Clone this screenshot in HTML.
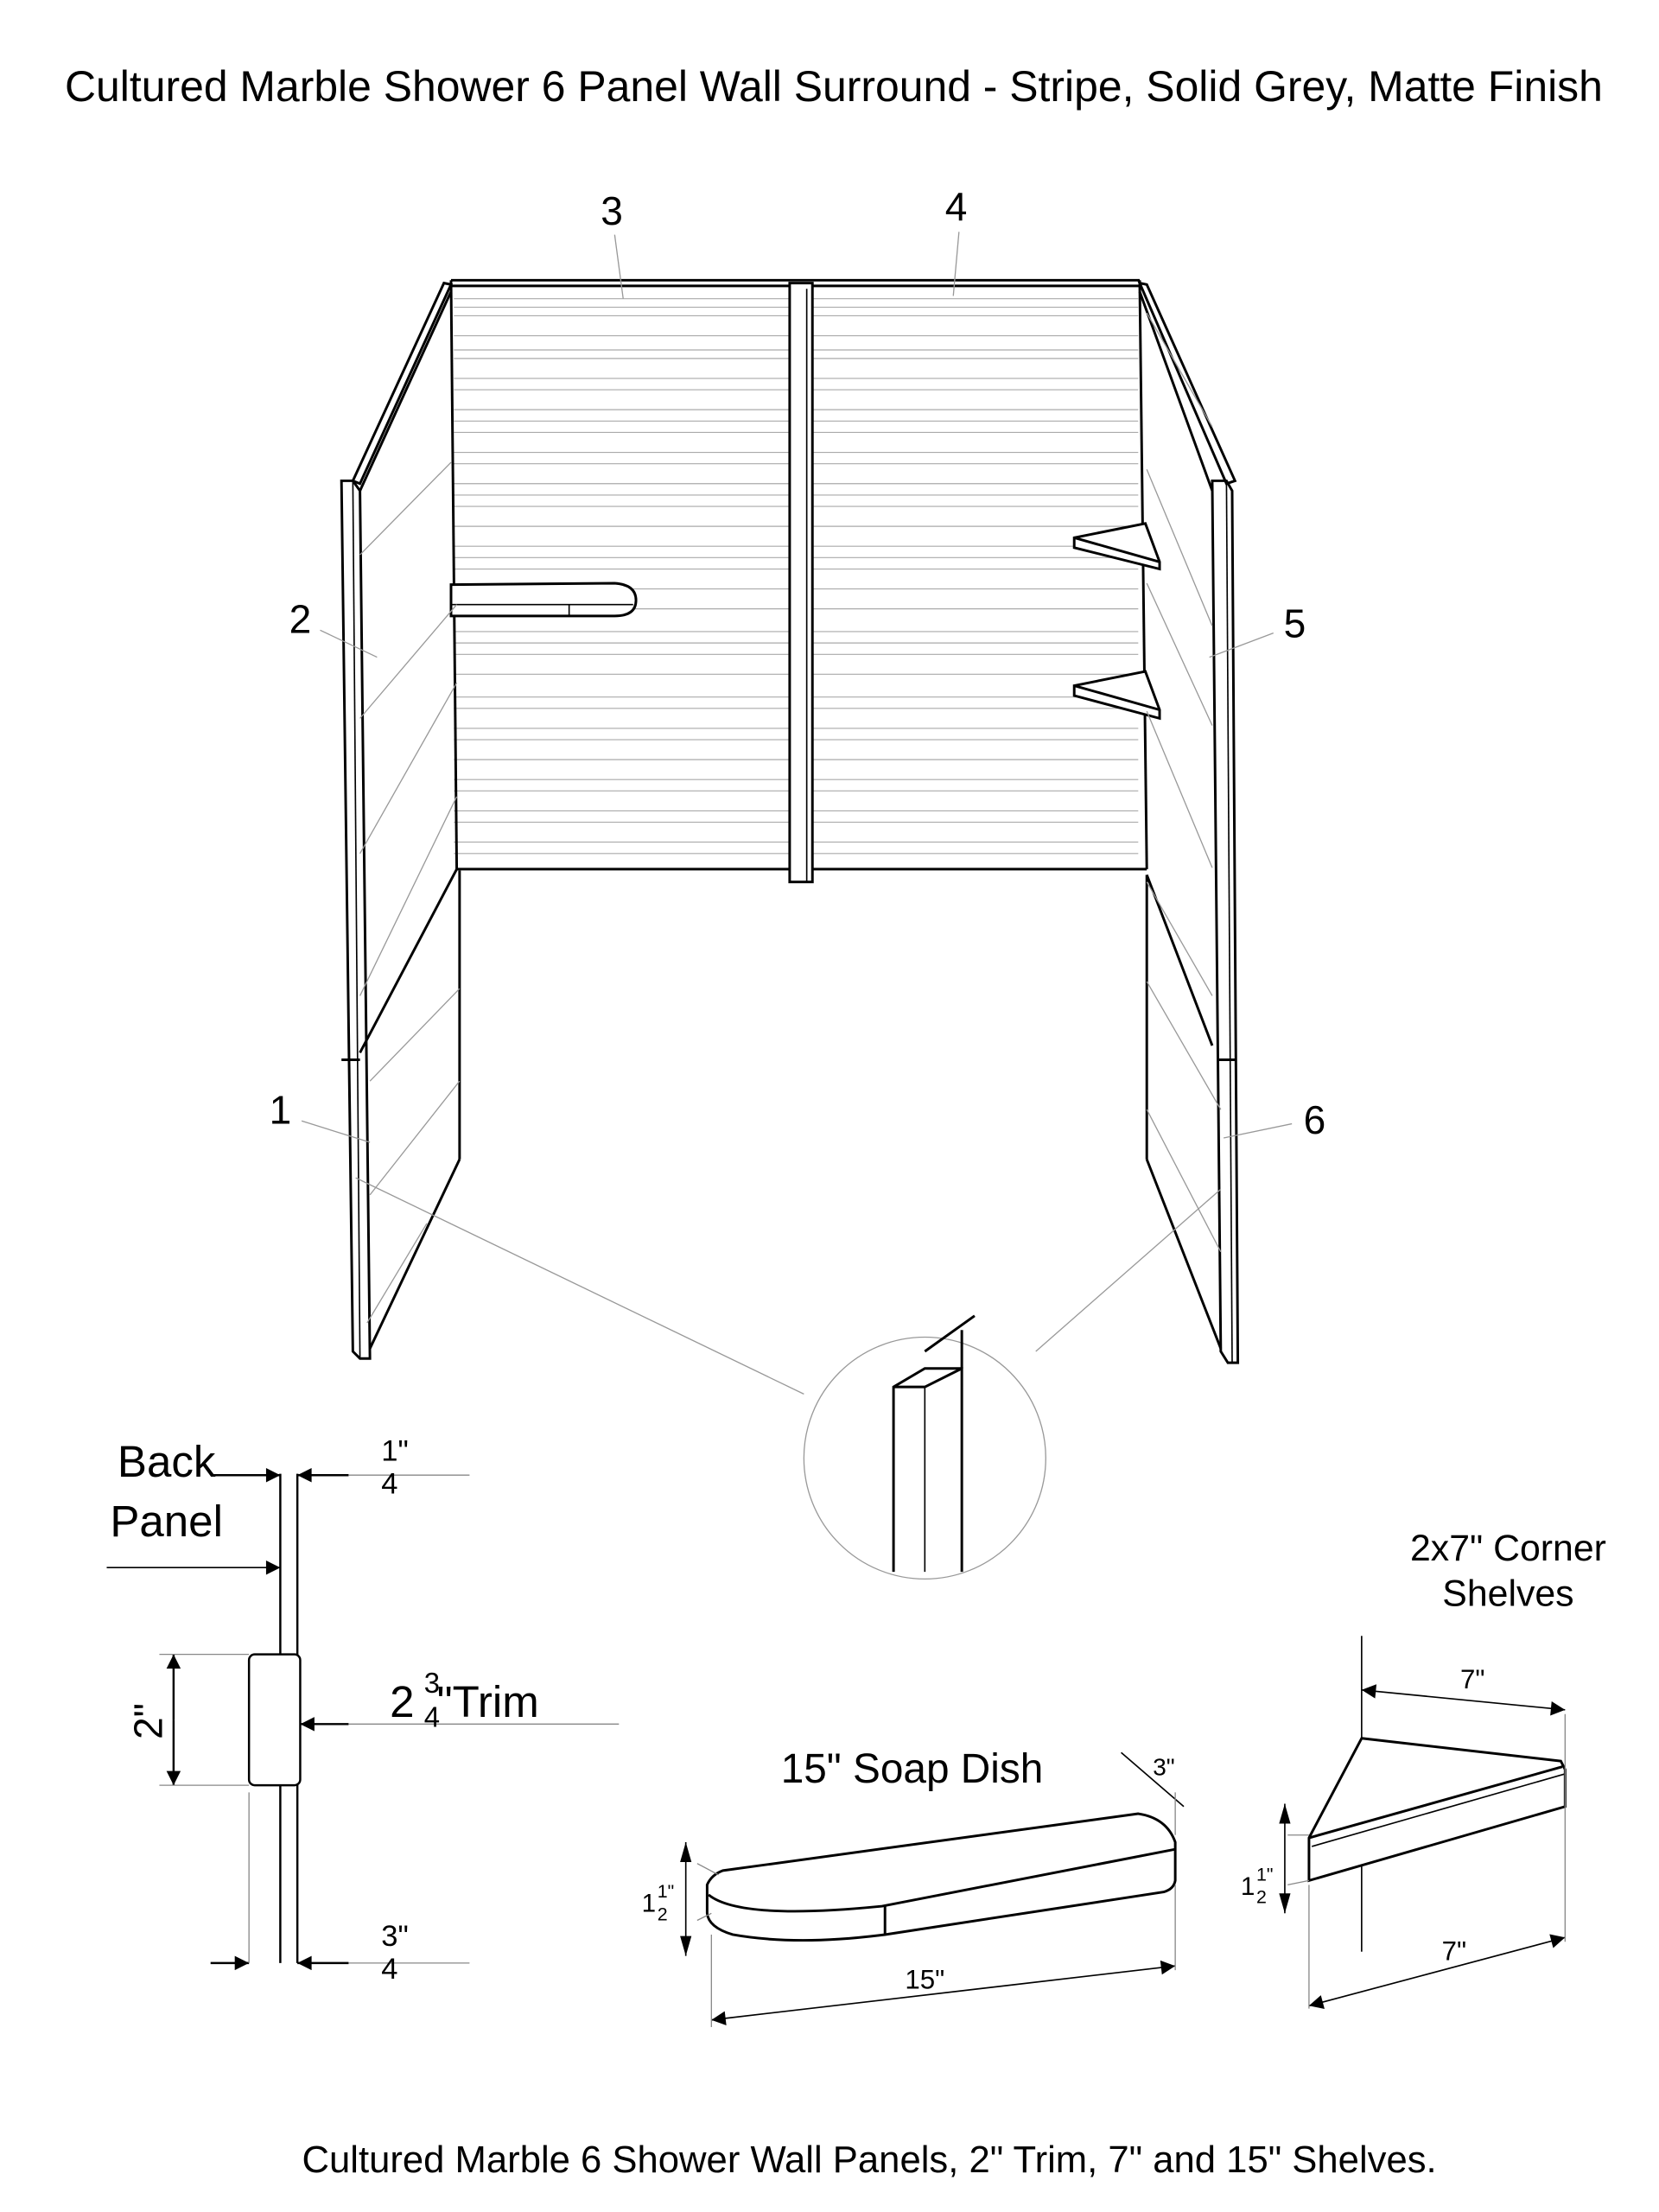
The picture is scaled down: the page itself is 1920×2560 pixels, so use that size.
<!DOCTYPE html>
<html><head><style>html,body{margin:0;padding:0;background:#fff}svg{display:block}</style></head>
<body>
<svg width="1920" height="2560" viewBox="0 0 1166 1555" preserveAspectRatio="none" xmlns="http://www.w3.org/2000/svg" font-family="Liberation Sans, sans-serif">
<defs>
<marker id="b" viewBox="0 0 10 10" refX="10" refY="5" markerWidth="22" markerHeight="10" orient="auto-start-reverse" markerUnits="userSpaceOnUse"><path d="M0,0L10,5L0,10z"/></marker>
</defs>
<text x="586" y="71" font-size="30.3" text-anchor="middle">Cultured Marble Shower 6 Panel Wall Surround - Stripe, Solid Grey, Matte Finish</text>
<text x="611" y="1527" font-size="26.5" text-anchor="middle">Cultured Marble 6 Shower Wall Panels, 2" Trim, 7" and 15" Shelves.</text>

<g stroke="#aaa" stroke-width="0.7">
<line x1="319" y1="210" x2="800" y2="210"/><line x1="319" y1="216" x2="800" y2="216"/><line x1="319" y1="222" x2="800" y2="222"/><line x1="319" y1="236" x2="800" y2="236"/><line x1="319" y1="246" x2="800" y2="246"/><line x1="319" y1="252" x2="800" y2="252"/><line x1="319" y1="266" x2="800" y2="266"/><line x1="319" y1="274" x2="800" y2="274"/><line x1="319" y1="288" x2="800" y2="288"/><line x1="319" y1="296" x2="800" y2="296"/><line x1="319" y1="304" x2="800" y2="304"/><line x1="319" y1="318" x2="800" y2="318"/><line x1="319" y1="326" x2="800" y2="326"/><line x1="319" y1="340" x2="800" y2="340"/><line x1="319" y1="348" x2="800" y2="348"/><line x1="319" y1="356" x2="800" y2="356"/><line x1="319" y1="370" x2="800" y2="370"/><line x1="319" y1="384" x2="800" y2="384"/><line x1="319" y1="392" x2="800" y2="392"/><line x1="319" y1="400" x2="800" y2="400"/><line x1="319" y1="414" x2="800" y2="414"/><line x1="319" y1="428" x2="800" y2="428"/><line x1="319" y1="444" x2="800" y2="444"/><line x1="319" y1="452" x2="800" y2="452"/><line x1="319" y1="460" x2="800" y2="460"/><line x1="319" y1="474" x2="800" y2="474"/><line x1="319" y1="490" x2="800" y2="490"/><line x1="319" y1="498" x2="800" y2="498"/><line x1="319" y1="512" x2="800" y2="512"/><line x1="319" y1="520" x2="800" y2="520"/><line x1="319" y1="534" x2="800" y2="534"/><line x1="319" y1="548" x2="800" y2="548"/><line x1="319" y1="556" x2="800" y2="556"/><line x1="319" y1="570" x2="800" y2="570"/><line x1="319" y1="578" x2="800" y2="578"/><line x1="319" y1="592" x2="800" y2="592"/><line x1="319" y1="600" x2="800" y2="600"/>
</g>
<g fill="none" stroke="#000" stroke-width="1.8">
<line x1="317" y1="197" x2="801" y2="197"/><line x1="317" y1="201" x2="801" y2="201"/>
<line x1="321" y1="611" x2="806" y2="611"/>
<line x1="317" y1="197" x2="321" y2="611"/><line x1="801" y1="197" x2="806" y2="611"/>
<rect x="555" y="199" width="16" height="421" fill="#fff"/><line x1="567" y1="203" x2="567" y2="620" stroke-width="1"/>
<polygon points="312,199 317,200 253,340 248,338"/>
<polygon points="240,338 248,338 253,345 260,955 253,955 248,950"/>
<line x1="248" y1="338" x2="253" y2="955" stroke-width="1"/>
<line x1="253" y1="345" x2="317" y2="205"/>
<line x1="253" y1="740" x2="321" y2="611"/><line x1="240" y1="745" x2="253" y2="745"/>
<line x1="323" y1="612" x2="323" y2="815"/><line x1="323" y1="815" x2="260" y2="948"/>
<polygon points="801,199 806,200 868,338 862,340"/>
<polygon points="852,338 862,338 866,345 870,958 863,958 858,950"/>
<line x1="862" y1="338" x2="866" y2="958" stroke-width="1"/>
<line x1="852" y1="345" x2="801" y2="205"/>
<line x1="852" y1="735" x2="806" y2="615"/><line x1="856" y1="745" x2="868" y2="745"/>
<line x1="806" y1="615" x2="806" y2="815"/><line x1="806" y1="815" x2="858" y2="948"/>
<path d="M317,411 L432,410 Q447,411 447,422 Q447,433 432,433 L317,433 Z" fill="#fff"/>
<line x1="317" y1="425" x2="445" y2="425" stroke-width="1"/><line x1="400" y1="425" x2="400" y2="433" stroke-width="1"/>
<polygon points="755,378 805,368 815,395 815,400 755,385" fill="#fff"/><line x1="755" y1="378" x2="815" y2="395"/>
<polygon points="755,482 805,472 815,499 815,505 755,489" fill="#fff"/><line x1="755" y1="482" x2="815" y2="499"/>
</g>
<g stroke="#999" stroke-width="0.8" fill="none">
<line x1="253" y1="390" x2="317" y2="325"/><line x1="253" y1="505" x2="321" y2="425"/><line x1="253" y1="600" x2="321" y2="480"/><line x1="253" y1="700" x2="321" y2="560"/>
<line x1="260" y1="760" x2="323" y2="695"/><line x1="260" y1="840" x2="323" y2="760"/><line x1="258" y1="930" x2="300" y2="860"/>
<line x1="852" y1="300" x2="806" y2="220"/><line x1="852" y1="440" x2="806" y2="330"/><line x1="852" y1="510" x2="806" y2="410"/><line x1="852" y1="610" x2="806" y2="500"/><line x1="852" y1="700" x2="806" y2="620"/>
<line x1="858" y1="780" x2="806" y2="690"/><line x1="858" y1="880" x2="806" y2="780"/>
<line x1="250" y1="828" x2="565" y2="980"/><line x1="858" y1="836" x2="728" y2="950"/>
<circle cx="650" cy="1025" r="85"/>
<line x1="438" y1="210" x2="432" y2="165"/><line x1="670" y1="208" x2="674" y2="163"/>
<line x1="225" y1="443" x2="265" y2="462"/><line x1="895" y1="445" x2="850" y2="462"/>
<line x1="212" y1="788" x2="260" y2="803"/><line x1="908" y1="790" x2="860" y2="800"/>
</g>
<g font-size="28"><text x="430" y="158" text-anchor="middle">3</text><text x="672" y="155" text-anchor="middle">4</text><text x="211" y="445" text-anchor="middle">2</text><text x="910" y="448" text-anchor="middle">5</text><text x="197" y="790" text-anchor="middle">1</text><text x="924" y="797" text-anchor="middle">6</text></g>
<g stroke="#000" stroke-width="1.8" fill="none">
<polyline points="628,1105 628,975 650,962 676,962 676,1105"/>
<line x1="628" y1="975" x2="650" y2="975"/><line x1="650" y1="975" x2="676" y2="962"/><line x1="650" y1="975" x2="650" y2="1105" stroke-width="1"/>
<line x1="650" y1="950" x2="685" y2="925"/><line x1="676" y1="962" x2="676" y2="935"/>
</g>
<g stroke="#000" stroke-width="1.5" fill="none">
<line x1="197" y1="1036" x2="197" y2="1380"/><line x1="209" y1="1036" x2="209" y2="1380"/>
<rect x="175" y="1163" width="36" height="92" rx="4" fill="#fff"/>
<line x1="150" y1="1037" x2="197" y2="1037" marker-end="url(#b)"/><line x1="245" y1="1037" x2="209" y2="1037" marker-end="url(#b)"/>
<line x1="75" y1="1102" x2="197" y2="1102" stroke-width="1" marker-end="url(#b)"/>
<line x1="245" y1="1212" x2="211" y2="1212" marker-end="url(#b)"/>
<line x1="148" y1="1380" x2="175" y2="1380" marker-end="url(#b)"/><line x1="245" y1="1380" x2="209" y2="1380" marker-end="url(#b)"/>
<line x1="122" y1="1209" x2="122" y2="1163" marker-end="url(#b)"/><line x1="122" y1="1209" x2="122" y2="1255" marker-end="url(#b)"/>
</g>
<g stroke="#888" stroke-width="0.8"><line x1="245" y1="1037" x2="330" y2="1037"/><line x1="245" y1="1212" x2="435" y2="1212"/><line x1="245" y1="1380" x2="330" y2="1380"/><line x1="112" y1="1163" x2="175" y2="1163"/><line x1="112" y1="1255" x2="175" y2="1255"/><line x1="175" y1="1260" x2="175" y2="1380"/></g>
<text x="117" y="1038" font-size="31" text-anchor="middle">Back</text><text x="117" y="1080" font-size="31" text-anchor="middle">Panel</text>
<text x="268" y="1027" font-size="21">1"</text><text x="268" y="1050" font-size="21">4</text>
<text x="268" y="1368" font-size="21">3"</text><text x="268" y="1391" font-size="21">4</text>
<text x="274" y="1207" font-size="31">2</text><text x="298" y="1190" font-size="20">3</text><text x="298" y="1214" font-size="20">4</text><text x="307" y="1207" font-size="31">"Trim</text>
<text transform="translate(114,1210) rotate(-90)" font-size="28" text-anchor="middle">2"</text>
<text x="641" y="1253" font-size="29" text-anchor="middle">15" Soap Dish</text>
<g stroke="#000" stroke-width="1.8" fill="none">
<path d="M508,1315 L800,1275 Q820,1278 826,1295 L826,1322 Q825,1328 818,1330 L622,1360 Q560,1368 515,1360 Q498,1355 497,1345 L497,1325 Q500,1318 508,1315Z"/>
<path d="M498,1332 Q520,1350 620,1340 L826,1300"/><line x1="622" y1="1340" x2="622" y2="1360"/>
<line x1="500" y1="1420" x2="826" y2="1382" stroke-width="1" marker-start="url(#b)" marker-end="url(#b)"/>
<line x1="482" y1="1295" x2="482" y2="1375" stroke-width="1"/>
<line x1="788" y1="1232" x2="832" y2="1270" stroke-width="1"/>
<polygon points="957,1222 1097,1238 1100,1244 1100,1270 920,1322 920,1292" fill="#fff"/>
<line x1="920" y1="1292" x2="1098" y2="1242"/><line x1="922" y1="1298" x2="1100" y2="1247" stroke-width="1"/>
<line x1="957" y1="1150" x2="957" y2="1222" stroke-width="1"/><line x1="957" y1="1312" x2="957" y2="1372" stroke-width="1"/>
<line x1="957" y1="1188" x2="1100" y2="1202" stroke-width="1" marker-start="url(#b)" marker-end="url(#b)"/>
<line x1="920" y1="1410" x2="1100" y2="1362" stroke-width="1" marker-start="url(#b)" marker-end="url(#b)"/>
<line x1="903" y1="1268" x2="903" y2="1345" stroke-width="1"/>
</g>
<g stroke="#888" stroke-width="0.8"><line x1="500" y1="1360" x2="500" y2="1425"/><line x1="826" y1="1325" x2="826" y2="1385"/><line x1="826" y1="1260" x2="826" y2="1290"/><line x1="1100" y1="1205" x2="1100" y2="1365"/><line x1="920" y1="1325" x2="920" y2="1412"/><line x1="490" y1="1310" x2="505" y2="1318"/><line x1="490" y1="1350" x2="500" y2="1345"/><line x1="905" y1="1290" x2="920" y2="1290"/><line x1="905" y1="1325" x2="920" y2="1322"/></g>
<path d="M482,1295l-4,14h8z M482,1375l-4,-14h8z M903,1268l-4,14h8z M903,1345l-4,-14h8z"/>
<text x="650" y="1398" font-size="19" text-anchor="middle">15"</text>
<text x="818" y="1248" font-size="17" text-anchor="middle">3"</text>
<text x="451" y="1344" font-size="18">1</text><text x="462" y="1334" font-size="13">1"</text><text x="462" y="1350" font-size="13">2</text>
<text x="872" y="1332" font-size="18">1</text><text x="883" y="1322" font-size="13">1"</text><text x="883" y="1338" font-size="13">2</text>
<text x="1035" y="1187" font-size="19" text-anchor="middle">7"</text><text x="1022" y="1378" font-size="19" text-anchor="middle">7"</text>
<text x="1060" y="1097" font-size="26" text-anchor="middle">2x7" Corner</text><text x="1060" y="1129" font-size="26" text-anchor="middle">Shelves</text>
</svg>
</body></html>
